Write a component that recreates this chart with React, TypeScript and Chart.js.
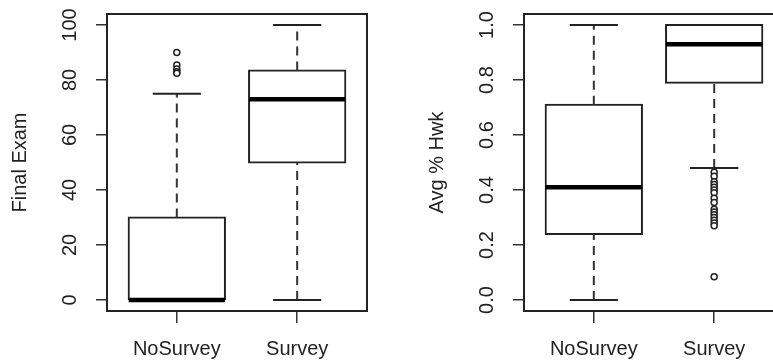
import React, { useEffect, useRef } from 'react';
import { Chart, registerables } from 'chart.js';

Chart.register(...registerables);

const FONT = '"Liberation Sans", Arial, Helvetica, sans-serif';
const FONT_SIZE = 20;

const categories = ['NoSurvey', 'Survey'];

// Panel 1: Final Exam
const examTicks = [0, 20, 40, 60, 80, 100];
const examTickLabels = ['0', '20', '40', '60', '80', '100'];
const examLowerWhisker = [0, 0];
const examQ1 = [0, 50];
const examMedian = [0, 73];
const examQ3 = [30, 83.5];
const examUpperWhisker = [75, 100];
const examOutliersNoSurvey = [90, 85.5, 84, 83, 82.5];
const examOutliersSurvey: number[] = [];

// Panel 2: Avg % Hwk
const hwkTicks = [0, 0.2, 0.4, 0.6, 0.8, 1.0];
const hwkTickLabels = ['0.0', '0.2', '0.4', '0.6', '0.8', '1.0'];
const hwkLowerWhisker = [0, 0.48];
const hwkQ1 = [0.24, 0.79];
const hwkMedian = [0.41, 0.93];
const hwkQ3 = [0.71, 1.0];
const hwkUpperWhisker = [1.0, 1.0];
const hwkOutliersNoSurvey: number[] = [];
const hwkOutliersSurvey = [0.465, 0.45, 0.43, 0.42, 0.41, 0.4, 0.39, 0.37, 0.355, 0.33, 0.32, 0.31, 0.3, 0.29, 0.28, 0.27, 0.085];

const INK = '#222';

type PanelProps = {
  left: number;
  title: string;
  lower: number[];
  q1: number[];
  median: number[];
  q3: number[];
  upper: number[];
  outliers: number[][];
  ticks: number[];
  tickLabels: string[];
  labelPad: number;
};

function BoxPanel(props: PanelProps) {
  const ref = useRef<HTMLCanvasElement>(null);
  useEffect(() => {
    const { title, lower, q1, median, q3, upper, outliers, ticks, tickLabels, labelPad } = props;
    const allVals = [...lower, ...upper, ...outliers.flat()];
    const dMin = Math.min(...allVals);
    const dMax = Math.max(...allVals);
    const yPad = (dMax - dMin) * 0.04;
    const xLo = 0.5, xHi = categories.length + 0.5;
    const xPad = (xHi - xLo) * 0.04;

    const datasets: any[] = [];
    // box bodies
    datasets.push({
      type: 'bar',
      data: categories.map((_, i) => ({ x: i + 1, y: [q1[i], q3[i]] })),
      backgroundColor: '#fff',
      borderColor: INK,
      borderWidth: 2,
      borderSkipped: false,
      inflateAmount: 1,
      barPercentage: 0.8,
      categoryPercentage: 1,
      order: 5,
    });
    categories.forEach((_, i) => {
      const x = i + 1;
      // whiskers
      datasets.push({
        type: 'line',
        data: [{ x, y: lower[i] }, { x, y: q1[i] }],
        borderColor: '#333', borderWidth: 2, borderDash: [9, 6], pointRadius: 0, order: 4,
      });
      datasets.push({
        type: 'line',
        data: [{ x, y: q3[i] }, { x, y: upper[i] }],
        borderColor: '#333', borderWidth: 2, borderDash: [9, 6], pointRadius: 0, order: 4,
      });
      // staples
      datasets.push({
        type: 'line',
        data: [{ x: x - 0.2, y: lower[i] }, { x: x + 0.2, y: lower[i] }],
        borderColor: INK, borderWidth: 2, pointRadius: 0, order: 3,
      });
      datasets.push({
        type: 'line',
        data: [{ x: x - 0.2, y: upper[i] }, { x: x + 0.2, y: upper[i] }],
        borderColor: INK, borderWidth: 2, pointRadius: 0, order: 3,
      });
      // outliers
      datasets.push({
        type: 'scatter',
        data: outliers[i].map((v) => ({ x, y: v })),
        pointStyle: 'circle', pointRadius: 3, pointBorderWidth: 1.5,
        pointBorderColor: INK, pointBackgroundColor: '#fff', order: 2,
      });
      // median
      datasets.push({
        type: 'line',
        data: [{ x: x - 0.4, y: median[i] }, { x: x + 0.4, y: median[i] }],
        borderColor: '#000', borderWidth: 4.5, pointRadius: 0, order: 1,
      });
    });

    const frame = {
      id: 'frame',
      afterDraw(chart: any) {
        const { ctx, chartArea: a } = chart;
        ctx.save();
        ctx.strokeStyle = INK;
        ctx.lineWidth = 2;
        ctx.strokeRect(a.left, a.top, a.right - a.left, a.bottom - a.top);
        ctx.restore();
      },
    };

    const chart = new Chart(ref.current!, {
      type: 'bar',
      data: { datasets },
      options: {
        responsive: false,
        animation: false,
        events: [],
        layout: { padding: { top: 14, right: 23, left: 0, bottom: 0 } },
        plugins: { legend: { display: false }, tooltip: { enabled: false } },
        scales: {
          x: {
            type: 'linear',
            min: xLo - xPad,
            max: xHi + xPad,
            offset: false,
            afterBuildTicks: (s: any) => { s.ticks = categories.map((_, i) => ({ value: i + 1 })); },
            afterFit: (s: any) => { s.height = 49; s.paddingLeft = 0; s.paddingRight = 0; },
            grid: { offset: false, drawOnChartArea: false, drawTicks: true, tickLength: 12, color: '#333', lineWidth: 1.5 },
            border: { display: false },
            ticks: {
              autoSkip: false, maxRotation: 0, minRotation: 0, padding: 14,
              color: INK, font: { family: FONT, size: FONT_SIZE },
              callback: (_v: any, i: number) => categories[i],
            },
          },
          y: {
            type: 'linear',
            min: dMin - yPad,
            max: dMax + yPad,
            afterBuildTicks: (s: any) => { s.ticks = ticks.map((v) => ({ value: v })); },
            afterFit: (s: any) => { s.width = 107; s.paddingTop = 0; s.paddingBottom = 0; },
            grid: { drawOnChartArea: false, drawTicks: true, tickLength: 11, color: '#333', lineWidth: 1.5 },
            border: { display: false },
            ticks: {
              minRotation: 90, maxRotation: 90, crossAlign: 'center', padding: labelPad,
              color: INK, font: { family: FONT, size: FONT_SIZE },
              callback: (_v: any, i: number) => tickLabels[i],
            },
            title: {
              display: true, text: title, color: INK,
              font: { family: FONT, size: FONT_SIZE }, padding: { top: 8, bottom: 0 },
            },
          },
        },
      } as any,
      plugins: [frame],
    });
    return () => chart.destroy();
  }, []);
  return (
    <canvas
      ref={ref}
      width={390}
      height={360}
      style={{ position: 'absolute', left: props.left, top: 0, width: 390, height: 360 }}
    />
  );
}

export default function App() {
  return (
    <div style={{ position: 'absolute', left: 0, top: 0, width: 773, height: 360, overflow: 'hidden', background: '#fff' }}>
      <BoxPanel
        left={0}
        title="Final Exam"
        lower={examLowerWhisker}
        q1={examQ1}
        median={examMedian}
        q3={examQ3}
        upper={examUpperWhisker}
        outliers={[examOutliersNoSurvey, examOutliersSurvey]}
        ticks={examTicks}
        tickLabels={examTickLabels}
        labelPad={9}
      />
      <BoxPanel
        left={417}
        title="Avg % Hwk"
        lower={hwkLowerWhisker}
        q1={hwkQ1}
        median={hwkMedian}
        q3={hwkQ3}
        upper={hwkUpperWhisker}
        outliers={[hwkOutliersNoSurvey, hwkOutliersSurvey]}
        ticks={hwkTicks}
        tickLabels={hwkTickLabels}
        labelPad={12}
      />
    </div>
  );
}
